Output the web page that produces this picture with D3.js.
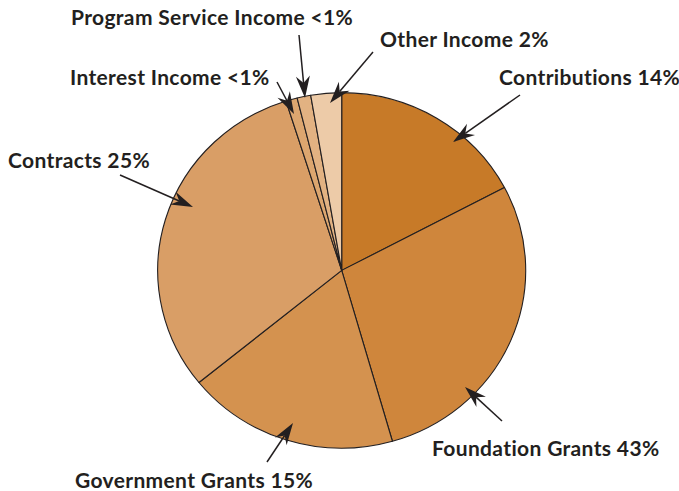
<!DOCTYPE html>
<html>
<head>
<meta charset="utf-8">
<script src="https://cdn.jsdelivr.net/npm/d3@7"></script>
<style>
  html, body { margin: 0; padding: 0; background: #fff; }
  svg { display: block; }
  .label { font-family: Lato, "Open Sans", sans-serif; font-weight: bold; font-size: 21px; fill: #231f20;
           letter-spacing: 0.35px; font-variant-ligatures: none; }
</style>
</head>
<body>
<div id="chart"></div>
<script>
// slices clockwise from 12 o'clock; sizes as drawn in the picture
const categories = ["Contributions", "Foundation Grants", "Government Grants", "Contracts",
  "Interest Income", "Program Service Income", "Other Income"];
const sliceValues = [17.3, 28.3, 18.6, 31.0, 1.0, 1.2, 2.7];
const percentLabels = ["14%", "43%", "15%", "25%", "<1%", "<1%", "2%"];
const colors = ["#c77a28", "#cf863c", "#d4924f", "#d99e66", "#dca66f", "#e2b282", "#edcba8"];

// label placement and leader arrows (x, y = text start/baseline; from -> to arrow)
const notes = [
  { x: 499, y: 85, from: [520, 95], to: [453, 142] },
  { x: 432, y: 456, from: [502, 421], to: [465, 387] },
  { x: 75, y: 488, from: [267, 462], to: [293, 423] },
  { x: 8, y: 168, from: [120, 175], to: [193, 207] },
  { x: 70, y: 85, from: [277, 82], to: [294, 114] },
  { x: 71, y: 25, from: [299, 35], to: [305, 98] },
  { x: 380, y: 47, from: [373, 52], to: [330, 103] },
];

const width = 679, height = 491;
const cx = 341.7, cy = 270.4, radius = 184, squash = 0.966;

const svg = d3.select("#chart").append("svg")
  .attr("width", width).attr("height", height);

const data = categories.map((c, i) => ({ name: c, value: sliceValues[i], color: colors[i] }));

const pie = d3.pie().value(d => d.value).sort(null);
const arc = d3.arc().innerRadius(0).outerRadius(radius);

const g = svg.append("g")
  .attr("transform", `translate(${cx},${cy}) scale(1,${squash})`);

g.selectAll("path")
  .data(pie(data))
  .enter()
  .append("path")
  .attr("d", arc)
  .attr("fill", d => d.data.color)
  .attr("stroke", "#231f20")
  .attr("stroke-width", 1.1)
  .attr("stroke-linejoin", "round");

// labels
svg.selectAll("text.label")
  .data(data)
  .enter()
  .append("text")
  .attr("class", "label")
  .attr("x", (d, i) => notes[i].x)
  .attr("y", (d, i) => notes[i].y)
  .text((d, i) => `${d.name} ${percentLabels[i]}`);

// arrows
notes.forEach(n => {
  const [x1, y1] = n.from, [x2, y2] = n.to;
  const ang = Math.atan2(y2 - y1, x2 - x1);
  const len = 22, half = 7, notch = 15;
  const ux = Math.cos(ang), uy = Math.sin(ang);
  const px = -uy, py = ux;
  svg.append("line")
    .attr("x1", x1).attr("y1", y1)
    .attr("x2", x2 - ux * notch).attr("y2", y2 - uy * notch)
    .attr("stroke", "#231f20").attr("stroke-width", 1.5);
  const pts = [
    [x2, y2],
    [x2 - ux * len + px * half, y2 - uy * len + py * half],
    [x2 - ux * notch, y2 - uy * notch],
    [x2 - ux * len - px * half, y2 - uy * len - py * half],
  ];
  svg.append("path")
    .attr("d", "M" + pts.join("L") + "Z")
    .attr("fill", "#231f20");
});
</script>
</body>
</html>
